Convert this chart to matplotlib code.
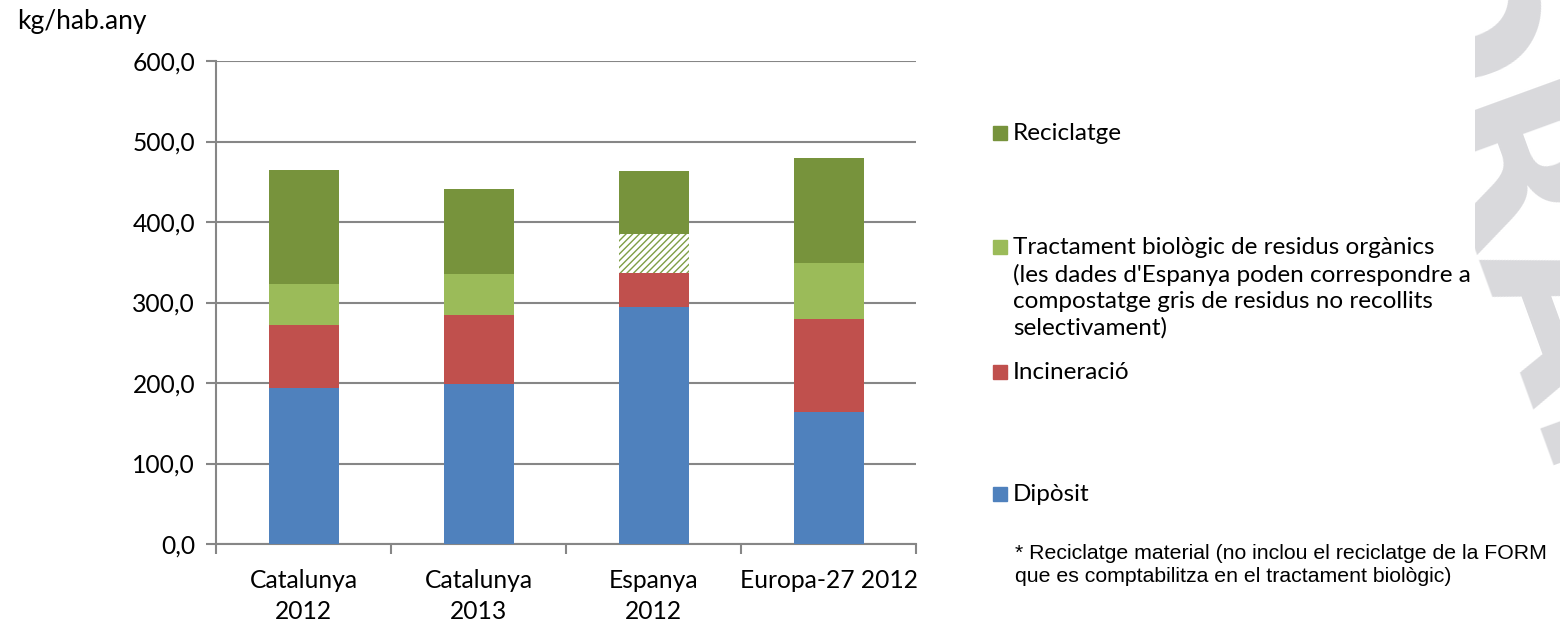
import numpy as np
import matplotlib
matplotlib.use("Agg")
import matplotlib.pyplot as plt
from matplotlib.patches import Rectangle

# values (kg/hab.any)
categories = ["Catalunya\n2012", "Catalunya\n2013", "Espanya\n2012", "Europa-27 2012"]
diposit = [193.6, 198.6, 294.3, 163.9]
incineracio = [78.7, 86.1, 42.7, 115.1]
tractament = [51.3, 50.6, 48.3, 70.3]
reciclatge = [140.9, 105.9, 78.3, 130.8]
hatched = [False, False, True, False]   # Espanya: may be grey composting

yticks = [0, 100, 200, 300, 400, 500, 600]

c_blue = "#4F81BD"
c_red = "#C0504D"
c_lgreen = "#9BBB59"
c_dgreen = "#77933C"
grid_c = "#868686"

plt.rcParams["font.family"] = ["Lato", "DejaVu Sans"]

fig = plt.figure(figsize=(15.6, 6.21), dpi=100)
ax = fig.add_axes([216 / 1560, 77 / 621, 700 / 1560, 483 / 621])

x = np.arange(len(categories)) + 0.5
w = 0.4

b0 = np.zeros(len(categories))
ax.bar(x, diposit, w, bottom=b0, color=c_blue, zorder=3)
b1 = b0 + np.array(diposit)
ax.bar(x, incineracio, w, bottom=b1, color=c_red, zorder=3)
b2 = b1 + np.array(incineracio)
for i in range(len(categories)):
    if hatched[i]:
        ax.bar(x[i], tractament[i], w, bottom=b2[i], facecolor="white",
               edgecolor="#7F9E45", linewidth=0, hatch="/////", zorder=3)
    else:
        ax.bar(x[i], tractament[i], w, bottom=b2[i], color=c_lgreen, zorder=3)
b3 = b2 + np.array(tractament)
ax.bar(x, reciclatge, w, bottom=b3, color=c_dgreen, zorder=3)

ax.set_xlim(0, len(categories))
ax.set_ylim(0, 600)
ax.set_yticks(yticks)
ax.set_yticklabels([f"{v:.1f}".replace(".", ",") for v in yticks])
ax.yaxis.grid(True, color=grid_c, linewidth=1.5, zorder=0)
ax.set_axisbelow(True)

ax.set_xticks(np.arange(len(categories) + 1))
ax.set_xticklabels([])
ax.set_xticks(x, minor=True)
ax.set_xticklabels(categories, minor=True, fontsize=17.7, linespacing=1.42)
ax.tick_params(axis="x", which="minor", length=0, pad=18)
ax.tick_params(axis="x", which="major", length=7, color=grid_c, width=1.5)
ax.tick_params(axis="y", length=7, color=grid_c, width=1.5, labelsize=17.7, pad=8)

for s in ["top", "right"]:
    ax.spines[s].set_visible(False)
for s in ["left", "bottom"]:
    ax.spines[s].set_color(grid_c)
    ax.spines[s].set_linewidth(1.5)

fig.text(17 / 1560, 1 - 22 / 621, "kg/hab.any", fontsize=19, va="center", ha="left")

# legend drawn by hand to match uneven spacing
legend_items = [
    (133, c_dgreen, "Reciclatge"),
    (247, c_lgreen, "Tractament biològic de residus orgànics\n(les dades d'Espanya poden correspondre a\ncompostatge gris de residus no recollits\nselectivament)"),
    (372, c_red, "Incineració"),
    (494, c_blue, "Dipòsit"),
]
for ypix, col, lab in legend_items:
    fig.patches.append(Rectangle((993 / 1560, 1 - (ypix + 7) / 621), 14 / 1560, 14 / 621,
                                 transform=fig.transFigure, color=col))
    fig.text(1013 / 1560, 1 - (ypix - 10) / 621, lab, fontsize=17.5, va="top",
             ha="left", linespacing=1.3)

fig.text(1015 / 1560, 1 - 565 / 621,
         "* Reciclatge material (no inclou el reciclatge de la FORM\nque es comptabilitza en el tractament biològic)",
         fontsize=15.3, va="center", ha="left", family=["Liberation Sans", "DejaVu Sans"],
         linespacing=1.3)

# faint watermark on the right edge
wax = fig.add_axes([1475 / 1560, 0, 85 / 1560, 1])
wax.set_axis_off()
wax.set_xlim(0, 1)
wax.set_ylim(0, 1)
wax.text(0.75, 0.5, "DRAFT", rotation=-70, fontsize=150, color="#D9D9DC",
         ha="center", va="center", fontweight="bold", clip_on=True,
         family=["DejaVu Sans"])

fig.savefig("out.png", dpi=100)
